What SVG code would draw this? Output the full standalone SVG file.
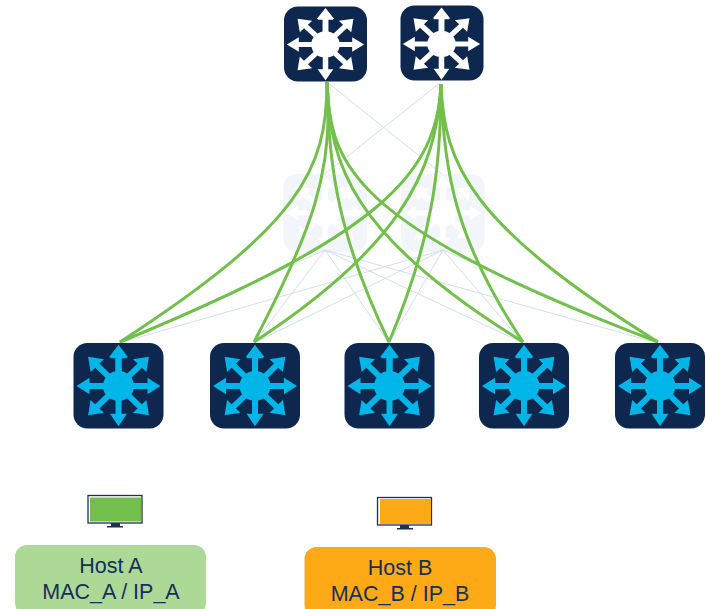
<svg xmlns="http://www.w3.org/2000/svg" width="706" height="609" viewBox="0 0 706 609">
<style>
.g{fill:none;stroke:#73bf4b;stroke-width:3}
.l{fill:none;stroke:#d3deea;stroke-width:1}
.t{font-family:"Liberation Sans",Arial,sans-serif;font-size:21.5px;fill:#14305a;text-anchor:middle}
.mf{stroke:#1c3250;stroke-width:1.3;fill:#fff}
.md{fill:#1c3250}
</style>
<defs>
<g id="arrows">
<circle r="15.500"/>
<g id="ar"><path d="M-3 0V-29H-8.500L0-42 8.500-29H3V0Z"/></g>
<use href="#ar" transform="rotate(90)"/><use href="#ar" transform="rotate(180)"/><use href="#ar" transform="rotate(270)"/>
<g id="ad"><path d="M-3 0V-30H-9.500L0-43 9.500-30H3V0Z"/></g>
<use href="#ad" transform="rotate(45)"/><use href="#ad" transform="rotate(135)"/><use href="#ad" transform="rotate(225)"/><use href="#ad" transform="rotate(315)"/>
</g>
</defs>
<g id="ghost-1"><rect x="283" y="174" width="84" height="78" rx="14" fill="#f2f6fb"/><use href="#arrows" transform="translate(325 213) scale(.92 .87)" fill="#fff"/></g>
<g id="ghost-2"><rect x="401" y="174" width="84" height="78" rx="14" fill="#f2f6fb"/><use href="#arrows" transform="translate(443 213) scale(.92 .87)" fill="#fff"/></g>
<g id="connectors">
<path class="l" d="M327 82L442 174M441 82L325 174M325 250L119 343M325 250L254 343M325 250L389 343M325 250L523 343M325 250L658 343M443 250L119 343M443 250L254 343M443 250L389 343M443 250L523 343M443 250L658 343"/>
<path class="g" d="M327 82C327 170 300 225 120 342"/>
<path class="g" d="M327 82C335 170 310 235 254 342"/>
<path class="g" d="M327 82C328 170 340 240 389 342"/>
<path class="g" d="M327 82C330 165 350 235 523 342"/>
<path class="g" d="M327 82C330 165 350 225 658 342"/>
<path class="g" d="M441 84C437 175 380 235 120 342"/>
<path class="g" d="M441 84C437 175 395 250 254 342"/>
<path class="g" d="M441 84C441 170 432 240 389 342"/>
<path class="g" d="M441 84C443 170 455 240 523 342"/>
<path class="g" d="M441 84C444 165 470 225 658 342"/>
</g>
<g id="spine-1"><rect x="284" y="6.500" width="83" height="75" rx="14" fill="#0e274e"/><use href="#arrows" transform="translate(325.500 44.500) scale(.92 .85)" fill="#fff"/></g>
<g id="spine-2"><rect x="400.500" y="5.500" width="83" height="75" rx="14" fill="#0e274e"/><use href="#arrows" transform="translate(441.500 44) scale(.92 .85)" fill="#fff"/></g>
<g id="leaf-1"><rect x="73.500" y="343" width="90" height="85.500" rx="14" fill="#0e274e"/><use href="#arrows" transform="translate(118.500 386) scale(1 .96)" fill="#00b5e8"/></g>
<g id="leaf-2"><rect x="210" y="343" width="90" height="85.500" rx="14" fill="#0e274e"/><use href="#arrows" transform="translate(255 386) scale(1 .96)" fill="#00b5e8"/></g>
<g id="leaf-3"><rect x="344.500" y="343" width="90" height="85.500" rx="14" fill="#0e274e"/><use href="#arrows" transform="translate(389.500 386) scale(1 .96)" fill="#00b5e8"/></g>
<g id="leaf-4"><rect x="479" y="343" width="90" height="85.500" rx="14" fill="#0e274e"/><use href="#arrows" transform="translate(524 386) scale(1 .96)" fill="#00b5e8"/></g>
<g id="leaf-5"><rect x="615" y="343" width="90" height="85.500" rx="14" fill="#0e274e"/><use href="#arrows" transform="translate(660 386) scale(1 .96)" fill="#00b5e8"/></g>
<g id="host-a-monitor"><rect class="mf" x="88" y="495.500" width="54" height="27.500"/><rect x="90" y="497.500" width="51" height="24" fill="#73bf4b"/><rect class="md" x="111" y="523" width="9" height="3"/><rect class="md" x="107" y="526" width="16" height="1.500"/></g>
<g id="host-a"><rect x="15" y="545" width="191" height="70" rx="12" fill="#acd995"/><text class="t" x="111" y="573">Host A</text><text class="t" x="111" y="599">MAC_A / IP_A</text></g>
<g id="host-b-monitor"><rect class="mf" x="377.500" y="497.500" width="54" height="27.500"/><rect x="380" y="499" width="51" height="25" fill="#fdaa16"/><rect class="md" x="400" y="525" width="9" height="3"/><rect class="md" x="397" y="528" width="16" height="1.500"/></g>
<g id="host-b"><rect x="304.500" y="547" width="191.500" height="70" rx="12" fill="#fdaa16"/><text class="t" x="400" y="575">Host B</text><text class="t" x="400" y="601">MAC_B / IP_B</text></g>
</svg>
